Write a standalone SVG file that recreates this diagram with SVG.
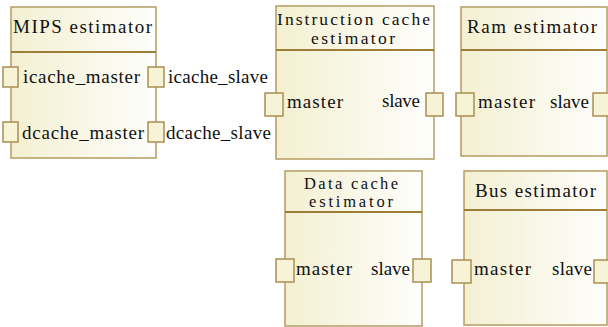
<svg xmlns="http://www.w3.org/2000/svg" width="608" height="327" viewBox="0 0 608 327">
<defs>
<linearGradient id="g" x1="0" y1="0" x2="1" y2="0">
<stop offset="0" stop-color="#f3f0d2"/>
<stop offset="1" stop-color="#fefefb"/>
</linearGradient>
<style>
.box{fill:url(#g);stroke:#b49c62;stroke-width:1.5}
.div{stroke:#9c7e36;stroke-width:2}
.port{fill:#f6f3d6;stroke:#a98f52;stroke-width:1.5}
text{font-family:"Liberation Serif","Times New Roman",serif;font-size:19px;fill:#111}
.t2{font-size:17.5px}
.t3{font-size:16.5px}
</style>
</defs>
<rect width="608" height="327" fill="#fff"/>
<g id="connectors"></g>
<g id="mips">
<rect class="box" x="11" y="7" width="145" height="151"/>
<line class="div" x1="11" y1="52" x2="156" y2="52"/>
<text x="13" y="33" textLength="139">MIPS estimator</text>
<rect class="port" x="3" y="67" width="15" height="20"/>
<rect class="port" x="3" y="122" width="15" height="20"/>
<rect class="port" x="148" y="67" width="16" height="20"/>
<rect class="port" x="148" y="122" width="16" height="20"/>
<text x="23" y="83" textLength="117">icache_master</text>
<text x="22" y="139" textLength="122">dcache_master</text>
<text x="168" y="83" textLength="100">icache_slave</text>
<text x="166" y="139" textLength="105">dcache_slave</text>
</g>
<g id="icache">
<rect class="box" x="276" y="6" width="158" height="153"/>
<line class="div" x1="276" y1="50" x2="434" y2="50"/>
<text class="t2" x="277" y="25" textLength="153">Instruction cache</text>
<text class="t2" x="311" y="44" textLength="84">estimator</text>
<rect class="port" x="265" y="93" width="18" height="23"/>
<rect class="port" x="426" y="93" width="17" height="23"/>
<text x="287" y="108" textLength="56">master</text>
<text x="382" y="107" textLength="38">slave</text>
</g>
<g id="ram">
<rect class="box" x="461" y="7" width="146" height="149"/>
<line class="div" x1="461" y1="50" x2="607" y2="50"/>
<text x="467" y="33" textLength="130">Ram estimator</text>
<rect class="port" x="456" y="93" width="18" height="23"/>
<rect class="port" x="593" y="93" width="18" height="23"/>
<text x="478" y="108" textLength="57">master</text>
<text x="550" y="108" textLength="39">slave</text>
</g>
<g id="dcache">
<rect class="box" x="285" y="171" width="137" height="155"/>
<line class="div" x1="285" y1="212" x2="422" y2="212"/>
<text class="t3" x="304" y="188.5" textLength="94">Data cache</text>
<text class="t3" x="309" y="207" textLength="84">estimator</text>
<rect class="port" x="276" y="259" width="18" height="23"/>
<rect class="port" x="413" y="259" width="18" height="23"/>
<text x="296" y="275" textLength="56">master</text>
<text x="371" y="275" textLength="39">slave</text>
</g>
<g id="bus">
<rect class="box" x="464" y="171" width="143" height="154"/>
<line class="div" x1="464" y1="210" x2="607" y2="210"/>
<text x="475" y="197" textLength="121">Bus estimator</text>
<rect class="port" x="452" y="260" width="19" height="23"/>
<rect class="port" x="594" y="260" width="18" height="23"/>
<text x="474" y="275" textLength="57">master</text>
<text x="552" y="275" textLength="40">slave</text>
</g>
</svg>
